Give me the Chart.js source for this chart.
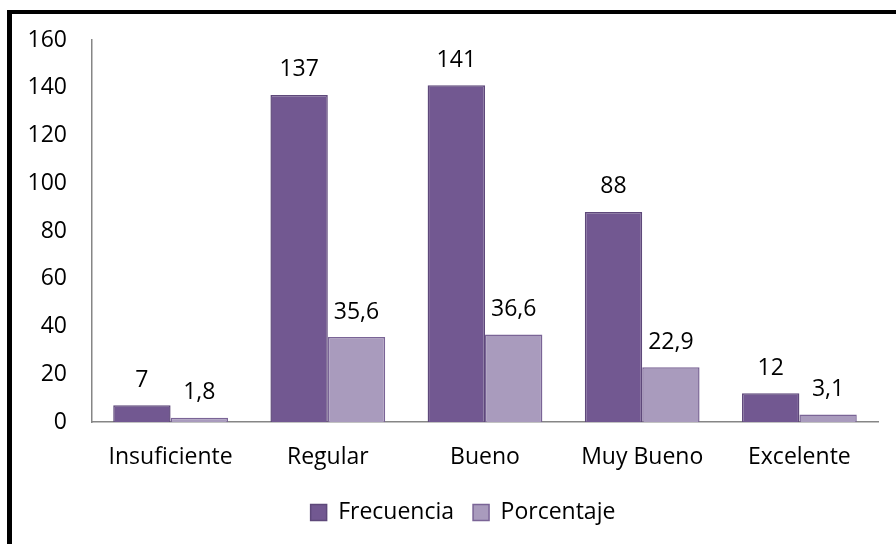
<!DOCTYPE html>
<html>
<head>
<meta charset="utf-8">
<script src="https://cdn.jsdelivr.net/npm/chart.js@4"></script>
<style>
  html, body { margin: 0; padding: 0; background: #fff; }
  #wrap { position: relative; width: 896px; height: 544px; }
  #frame {
    position: absolute; left: 7px; top: 10px; right: 0; bottom: 0;
    border-left: 5px solid #000; border-top: 4px solid #000;
    pointer-events: none;
  }
</style>
</head>
<body>
<div id="wrap">
  <canvas id="chart" width="896" height="544"></canvas>
  <div id="frame"></div>
</div>
<script>
// --- Data ---
const categories = ['Insuficiente', 'Regular', 'Bueno', 'Muy Bueno', 'Excelente'];
const frecuencia = [7, 137, 141, 88, 12];
const porcentaje = [1.8, 35.6, 36.6, 22.9, 3.1];
const yTicks = [0, 20, 40, 60, 80, 100, 120, 140, 160];

const FONT = "'Open Sans', sans-serif";
const SIZE = 23;

// --- Value labels above bars ---
const barLabels = {
  id: 'barLabels',
  afterDatasetsDraw(chart) {
    const c = chart.ctx;
    c.save();
    c.font = `${SIZE}px ${FONT}`;
    c.fillStyle = '#000';
    c.textAlign = 'center';
    c.textBaseline = 'middle';
    chart.data.datasets.forEach((ds, i) => {
      chart.getDatasetMeta(i).data.forEach((bar, j) => {
        const txt = String(ds.data[j]).replace('.', ',');
        c.fillText(txt, bar.x, bar.y - 25);
      });
    });
    c.restore();
  }
};

// legend sits a bit right of the page centre in the original
const legendShift = {
  id: 'legendShift',
  afterLayout(chart) {
    if (chart.legend) chart.legend.left += 48;
  }
};

new Chart(document.getElementById('chart'), {
  type: 'bar',
  data: {
    labels: categories,
    datasets: [
      {
        label: 'Frecuencia',
        data: frecuencia,
        backgroundColor: '#725891',
        borderColor: '#5e487a',
        borderWidth: 1.5
      },
      {
        label: 'Porcentaje',
        data: porcentaje,
        backgroundColor: '#a99bbd',
        borderColor: '#7a6496',
        borderWidth: 1.5
      }
    ]
  },
  options: {
    responsive: false,
    animation: false,
    layout: { padding: { left: 0, right: 18, top: 40, bottom: 10 } },
    datasets: { bar: { barPercentage: 1, categoryPercentage: 0.73 } },
    plugins: {
      legend: {
        position: 'bottom',
        labels: {
          font: { family: FONT, size: SIZE },
          color: '#000',
          boxWidth: 16,
          boxHeight: 16,
          padding: 19
        }
      },
      tooltip: { enabled: false }
    },
    scales: {
      x: {
        afterFit: s => { s.height = 60; },
        grid: { display: false, drawTicks: false },
        border: { color: '#868686', width: 1.5 },
        ticks: { font: { family: FONT, size: SIZE }, color: '#000', padding: 22 }
      },
      y: {
        min: 0,
        max: 160,
        afterFit: s => { s.width = 92; },
        afterBuildTicks: s => { s.ticks = yTicks.map(v => ({ value: v })); },
        grid: { display: false, drawTicks: false },
        border: { color: '#868686', width: 1.5 },
        ticks: { font: { family: FONT, size: SIZE }, color: '#000', padding: 25 }
      }
    }
  },
  plugins: [barLabels, legendShift]
});
</script>
</body>
</html>
